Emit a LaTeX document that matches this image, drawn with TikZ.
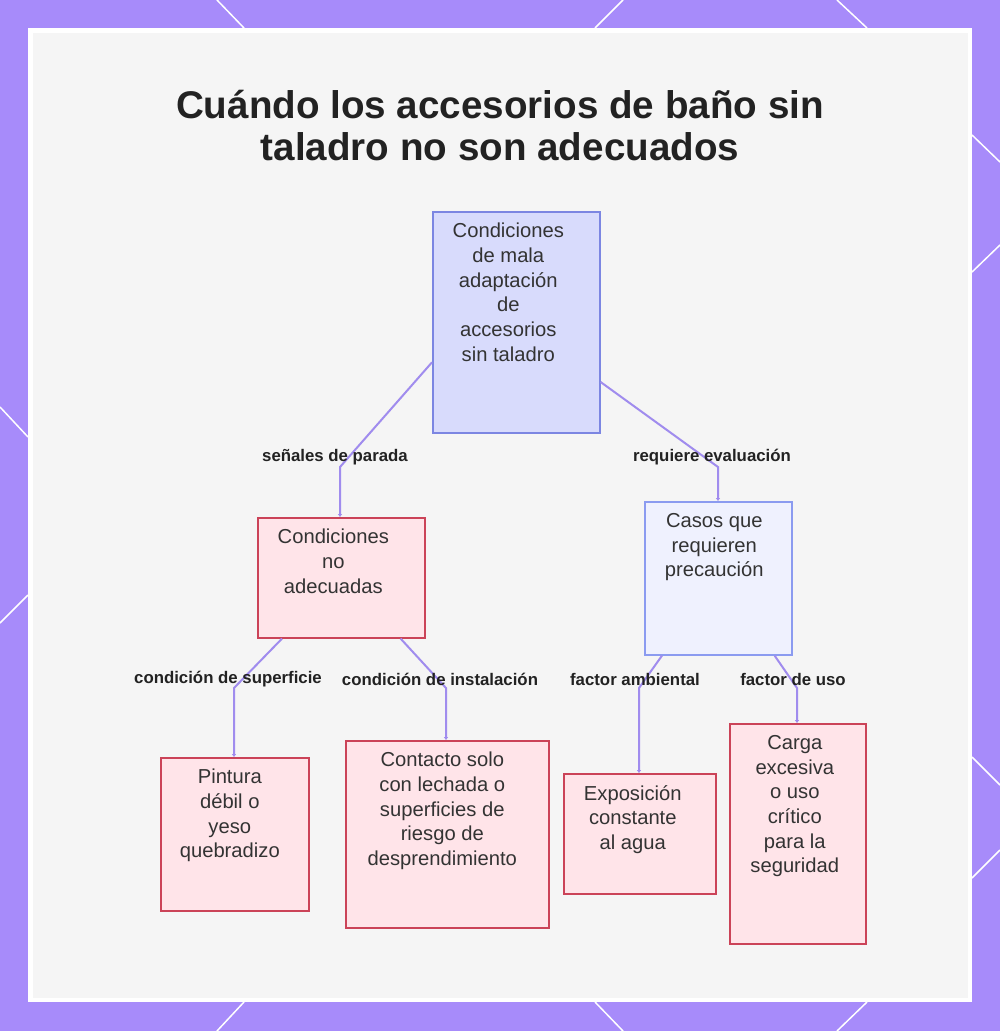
\documentclass[tikz,border=0pt]{standalone}
\usepackage{fontspec}
\setmainfont{Liberation Sans}
\usetikzlibrary{arrows.meta}
\definecolor{frame}{HTML}{A78BFA}
\definecolor{panel}{HTML}{F5F5F5}
\definecolor{rootfill}{HTML}{D8DBFC}
\definecolor{rootdraw}{HTML}{7C86E2}
\definecolor{pinkfill}{HTML}{FFE4E9}
\definecolor{pinkdraw}{HTML}{CB4358}
\definecolor{bluefill}{HTML}{EFF1FE}
\definecolor{bluedraw}{HTML}{8B9BF0}
\definecolor{conn}{HTML}{A08CEE}
\definecolor{ink}{HTML}{333333}
\definecolor{titleink}{HTML}{222222}
\tikzset{
  boxbase/.style={rectangle, inner sep=0pt, line width=1.6pt, anchor=north west},
  rootbox/.style={boxbase, fill=rootfill, draw=rootdraw},
  pinkbox/.style={boxbase, fill=pinkfill, draw=pinkdraw},
  bluebox/.style={boxbase, fill=bluefill, draw=bluedraw},
  boxtext/.style={anchor=north, align=center, inner sep=0pt, text=ink,
    font=\fontsize{20.2}{24.7}\selectfont, yshift=-12pt},
  lbl/.style={inner sep=0pt, text=titleink, font=\fontsize{16.8}{19}\selectfont\bfseries},
  conline/.style={draw=conn, line width=2pt, -{Triangle[length=3pt,width=4pt]}},
  hexline/.style={draw=white, line width=1.5pt}
}
\begin{document}
\begin{tikzpicture}[x=1pt,y=-1pt]
\useasboundingbox (0,0) rectangle (1000,1031);
% frame
\fill[frame] (0,0) rectangle (1000,1031);
\draw[hexline] (217,0) -- (244,28);
\draw[hexline] (623,0) -- (595,28);
\draw[hexline] (837,0) -- (867,28);
\draw[hexline] (244,1002) -- (217,1031);
\draw[hexline] (595,1002) -- (623,1031);
\draw[hexline] (867,1002) -- (837,1031);
\draw[hexline] (0,407) -- (28,437);
\draw[hexline] (28,595) -- (0,623);
\draw[hexline] (972,135) -- (1000,162);
\draw[hexline] (972,272) -- (1000,245);
\draw[hexline] (972,757) -- (1000,785);
\draw[hexline] (972,878) -- (1000,850);
\fill[white] (28,28) rectangle (972,1002);
\fill[panel] (33,33) rectangle (968,998);
% title
\node[inner sep=0pt, text=titleink, align=center,
  font=\fontsize{38.6}{42}\selectfont\bfseries] (title) at (500,126)
  {Cuándo los accesorios de baño sin\\taladro no son adecuados};
% boxes
\node[rootbox, minimum width=167pt, minimum height=221pt] (root) at (432,211) {};
\node[boxtext, xshift=-8pt] (rootT) at (root.north) {Condiciones\\de mala\\adaptación\\de\\accesorios\\sin taladro};
\node[pinkbox, minimum width=167pt, minimum height=120pt] (nad) at (257,517) {};
\node[boxtext, xshift=-8pt] (nadT) at (nad.north) {Condiciones\\no\\adecuadas};
\node[bluebox, minimum width=147pt, minimum height=153pt] (cas) at (644,501) {};
\node[boxtext, xshift=-4pt] (casT) at (cas.north) {Casos que\\requieren\\precaución};
\node[pinkbox, minimum width=148pt, minimum height=153pt] (pin) at (160,757) {};
\node[boxtext, xshift=-5pt] (pinT) at (pin.north) {Pintura\\débil o\\yeso\\quebradizo};
\node[pinkbox, minimum width=203pt, minimum height=187pt] (con) at (345,740) {};
\node[boxtext, xshift=-5pt] (conT) at (con.north) {Contacto solo\\con lechada o\\superficies de\\riesgo de\\desprendimiento};
\node[pinkbox, minimum width=152pt, minimum height=120pt] (exp) at (563,773) {};
\node[boxtext, xshift=-7pt] (expT) at (exp.north) {Exposición\\constante\\al agua};
\node[pinkbox, minimum width=136pt, minimum height=220pt] (car) at (729,723) {};
\node[boxtext, xshift=-3pt] (carT) at (car.north) {Carga\\excesiva\\o uso\\crítico\\para la\\seguridad};
% connectors
\draw[conline] ([yshift=-40pt]root.west) -- (340,467) -- (nad.north west -| 340,0);
\draw[conline] ([yshift=-171pt]root.north east) -- (718,467) -- (cas.north west -| 718,0);
\draw[conline] ([xshift=25pt]nad.south west) -- (234,688) -- (pin.north west -| 234,0);
\draw[conline] ([xshift=-25pt]nad.south east) -- (446,688) -- (con.north west -| 446,0);
\draw[conline] ([xshift=18pt]cas.south west) -- (639,688) -- (exp.north west -| 639,0);
\draw[conline] ([xshift=-18pt]cas.south east) -- (797,688) -- (car.north west -| 797,0);
% labels
\node[lbl] (l1) at (335,457) {señales de parada};
\node[lbl] (l2) at (712,457) {requiere evaluación};
\node[lbl] (l3) at (228,679) {condición de superficie};
\node[lbl] (l4) at (440,679) {condición de instalación};
\node[lbl] (l5) at (635,679) {factor ambiental};
\node[lbl] (l6) at (793,679) {factor de uso};
\end{tikzpicture}
\end{document}
